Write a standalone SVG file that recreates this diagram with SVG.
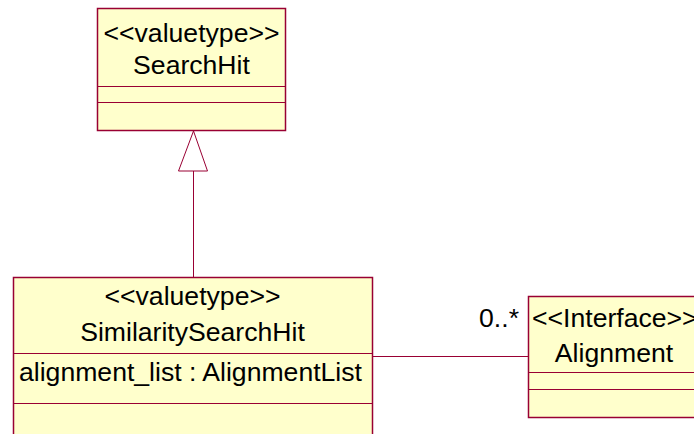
<svg xmlns="http://www.w3.org/2000/svg" width="694" height="434" viewBox="0 0 694 434">
<style>
.box{fill:#FFFFCC;stroke:#990033;stroke-width:1.5}
.div{stroke:#990033;stroke-width:1}
.t{font-family:"Liberation Sans",Arial,sans-serif;font-size:26.6px;fill:#000}
.c{text-anchor:middle}
.conn{stroke:#990033;stroke-width:1;fill:none}
</style>
<rect width="694" height="434" fill="#FFFFFF"/>
<g id="SearchHit">
<rect class="box" x="97.5" y="8.5" width="188" height="122"/>
<line class="div" x1="97.5" y1="86.5" x2="285.5" y2="86.5"/>
<line class="div" x1="97.5" y1="102.5" x2="285.5" y2="102.5"/>
<text class="t c" x="191.5" y="42">&lt;&lt;valuetype&gt;&gt;</text>
<text class="t c" x="191.5" y="74">SearchHit</text>
</g>
<g id="SimilaritySearchHit">
<rect class="box" x="13.5" y="277.5" width="359" height="170"/>
<line class="div" x1="13.5" y1="353.5" x2="372.5" y2="353.5"/>
<line class="div" x1="13.5" y1="403.5" x2="372.5" y2="403.5"/>
<text class="t c" x="192.5" y="305">&lt;&lt;valuetype&gt;&gt;</text>
<text class="t c" x="192.5" y="341">SimilaritySearchHit</text>
<text class="t" x="19" y="381">alignment_list : AlignmentList</text>
</g>
<g id="Alignment">
<rect class="box" x="528.5" y="296.5" width="200" height="121"/>
<line class="div" x1="528.5" y1="372.5" x2="728.5" y2="372.5"/>
<line class="div" x1="528.5" y1="389.5" x2="728.5" y2="389.5"/>
<text class="t" x="532" y="327">&lt;&lt;Interface&gt;&gt;</text>
<text class="t c" x="614" y="362">Alignment</text>
</g>
<g id="connectors">
<line class="conn" x1="193.5" y1="171" x2="193.5" y2="277"/>
<polygon class="conn" points="193.5,131 178.5,171 207.5,171" fill="#FFFFFF"/>
<line class="conn" x1="372.5" y1="356.5" x2="528.5" y2="356.5"/>
<text class="t" x="519" y="327" text-anchor="end">0..*</text>
</g>
</svg>
